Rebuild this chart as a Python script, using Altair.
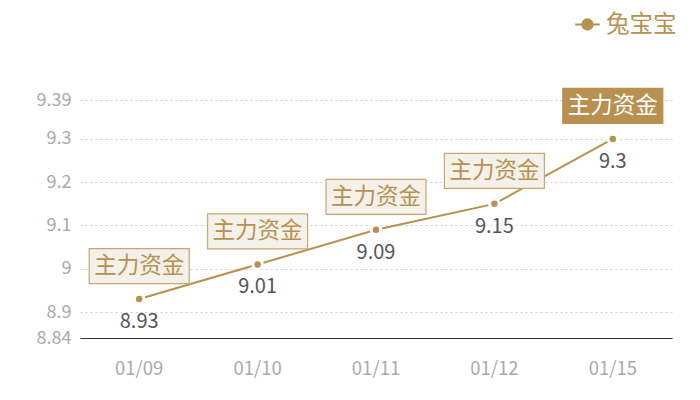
import altair as alt
import pandas as pd

dates = ["01/09", "01/10", "01/11", "01/12", "01/15"]
values = [8.93, 9.01, 9.09, 9.15, 9.3]
tags = ["主力资金", "主力资金", "主力资金", "主力资金", "主力资金"]
highlight = [False, False, False, False, True]
series = "兔宝宝"
y_ticks = [8.84, 8.9, 9.0, 9.1, 9.2, 9.3, 9.39]

GOLD = "#b8904f"
FONT = "Noto Sans CJK SC"

df = pd.DataFrame({
    "date": dates,
    "value": values,
    "tag": tags,
    "hl": highlight,
    "series": [series] * len(dates),
})

x = alt.X("date:N", sort=dates, title=None,
          scale=alt.Scale(type="band", paddingInner=0, paddingOuter=0),
          axis=alt.Axis(labelAngle=0, labelColor="#aaaaaa", labelFontSize=18.5,
                        labelFont=FONT, labelPadding=21, ticks=False,
                        domainColor="#333333", domainWidth=1.2, grid=False))
y = alt.Y("value:Q", title=None,
          scale=alt.Scale(domain=[8.84, 9.39], nice=False, zero=False),
          axis=alt.Axis(values=y_ticks, labelColor="#aaaaaa", labelFontSize=18,
                        labelFont=FONT, labelPadding=9, ticks=False, domain=False,
                        grid=True, gridColor="#cccccc", gridDash=[2, 3],
                        labelExpr="format(datum.value, '.2~f')"))

base = alt.Chart(df)

line = base.mark_line(strokeWidth=2).encode(
    x=x, y=y,
    color=alt.Color("series:N", title=None,
                    scale=alt.Scale(range=[GOLD]),
                    legend=alt.Legend(
                        orient="none", legendX=494, legendY=-89,
                        symbolType="M-1,0 L1,0 M0.42,0 A0.42,0.42 0 1 1 -0.42,0 A0.42,0.42 0 1 1 0.42,0",
                        symbolSize=600, symbolStrokeWidth=2,
                        symbolFillColor=GOLD, symbolStrokeColor=GOLD,
                        labelFontSize=23.5, labelColor=GOLD, labelFont=FONT,
                        labelOffset=5, labelLimit=200)),
)

pts = base.mark_point(filled=True, size=90, stroke="white", strokeWidth=3,
                      fill=GOLD, opacity=1).encode(x=x, y=y)

vals = base.mark_text(fontSize=20, font=FONT, color="#555555", dy=23,
                      baseline="middle").encode(x=x, y=y, text="value:Q")

box_shape = "M-1,-0.35 L1,-0.35 L1,0.35 L-1,0.35 Z"
boxes_n = base.transform_filter("!datum.hl").mark_point(
    shape=box_shape, size=10000, filled=True, fill="#f4f0ea",
    stroke="#c9a570", strokeWidth=1.2, opacity=1, yOffset=-33).encode(x=x, y=y)
boxes_h = base.transform_filter("datum.hl").mark_point(
    shape=box_shape, size=10000, filled=True, fill=GOLD,
    stroke=GOLD, strokeWidth=1.2, opacity=1, yOffset=-33).encode(x=x, y=y)
tags_n = base.transform_filter("!datum.hl").mark_text(
    fontSize=22.5, font=FONT, color=GOLD, dy=-33, baseline="middle").encode(
    x=x, y=y, text="tag:N")
tags_h = base.transform_filter("datum.hl").mark_text(
    fontSize=22.5, font=FONT, color="white", dy=-33, baseline="middle").encode(
    x=x, y=y, text="tag:N")

chart = alt.layer(line, pts, vals, boxes_n, boxes_h, tags_n, tags_h).properties(
    width=592, height=238,
    autosize=alt.AutoSizeParams(type="none"),
    padding={"left": 72, "top": 92, "right": 20, "bottom": 46},
    view=alt.ViewBackground(strokeOpacity=0, strokeWidth=0),
).configure_view(strokeWidth=0, strokeOpacity=0).configure(background="white")

chart.save("out.html", embed_options={"renderer": "svg", "actions": False})
